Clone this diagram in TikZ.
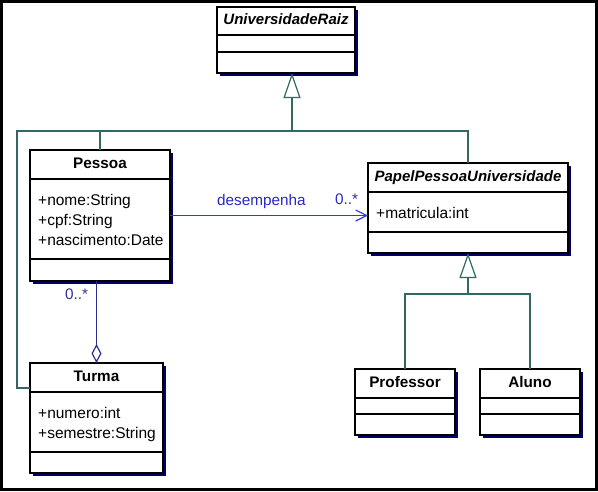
\documentclass[tikz,border=0pt]{standalone}
\usepackage{fontspec}
\setmainfont{Liberation Sans}
\usetikzlibrary{arrows.meta,shadows,calc}
\definecolor{shadowblue}{RGB}{0,0,110}
\definecolor{genteal}{RGB}{51,102,102}
\definecolor{assocblue}{RGB}{51,51,240}
\definecolor{lblblue}{RGB}{40,40,200}
\definecolor{aggnavy}{RGB}{45,45,150}
\tikzset{
  classbox/.style={draw=black, fill=white, line width=1.2pt, inner sep=0pt, outer sep=0pt,
    drop shadow={shadow xshift=3pt, shadow yshift=-3pt, fill=shadowblue, opacity=1}},
  sepline/.style={draw=black, line width=1.2pt},
  cname/.style={font=\fontsize{15.3}{20}\selectfont\bfseries, anchor=base, inner sep=0pt},
  aname/.style={font=\fontsize{15}{20}\selectfont\bfseries\itshape, anchor=base, inner sep=0pt},
  attr/.style={font=\fontsize{15.5}{20}\selectfont, anchor=base west, inner sep=0pt, align=left},
  genline/.style={draw=genteal, line width=1.2pt},
  assocline/.style={draw=assocblue, line width=1.2pt},
  aggline/.style={draw=aggnavy, line width=1.2pt},
  lbl/.style={font=\fontsize{15.3}{20}\selectfont, anchor=base west, inner sep=0pt},
}
\begin{document}
\begin{tikzpicture}[x=1pt,y=-1pt]
\useasboundingbox (0,0) rectangle (598,491);
\draw[line width=2.6pt] (1.3,1.3) rectangle (596.7,489.7);

% UniversidadeRaiz: x 217-355, y 7-73
\node[classbox, minimum width=138pt, minimum height=66pt] (ur) at (286,40) {};
\draw[sepline] ($(ur.north west)+(0,28)$) -- ($(ur.north east)+(0,28)$);
\draw[sepline] ($(ur.north west)+(0,45)$) -- ($(ur.north east)+(0,45)$);
\node[aname] (urname) at (286,24) {UniversidadeRaiz};

% Pessoa: x 30-170, y 150-281
\node[classbox, minimum width=140pt, minimum height=131pt] (pessoa) at (100,215.5) {};
\draw[sepline] ($(pessoa.north west)+(0,29)$) -- ($(pessoa.north east)+(0,29)$);
\draw[sepline] ($(pessoa.north west)+(0,109)$) -- ($(pessoa.north east)+(0,109)$);
\node[cname] (pessoaname) at (100,168) {Pessoa};
\node[attr] (pessoaa1) at (38,205.5) {+nome:String};
\node[attr] (pessoaa2) at (38,225.5) {+cpf:String};
\node[attr] (pessoaa3) at (38,245.5) {+nascimento:Date};

% Turma: x 30-163, y 363-473
\node[classbox, minimum width=133pt, minimum height=110pt] (turma) at (96.5,418) {};
\draw[sepline] ($(turma.north west)+(0,29)$) -- ($(turma.north east)+(0,29)$);
\draw[sepline] ($(turma.north west)+(0,89)$) -- ($(turma.north east)+(0,89)$);
\node[cname] (turmaname) at (96.5,381) {Turma};
\node[attr] (turmaa1) at (38,418) {+numero:int};
\node[attr] (turmaa2) at (38,438) {+semestre:String};

% PapelPessoaUniversidade: x 368-568, y 163-253
\node[classbox, minimum width=200pt, minimum height=90pt] (papel) at (468,208) {};
\draw[sepline] ($(papel.north west)+(0,29)$) -- ($(papel.north east)+(0,29)$);
\draw[sepline] ($(papel.north west)+(0,69)$) -- ($(papel.north east)+(0,69)$);
\node[aname] (papelname) at (468,181) {PapelPessoaUniversidade};
\node[attr] (papela1) at (376,218.5) {+matricula:int};

% Professor: x 355-455, y 369-435
\node[classbox, minimum width=100pt, minimum height=66pt] (prof) at (405,402) {};
\draw[sepline] ($(prof.north west)+(0,29)$) -- ($(prof.north east)+(0,29)$);
\draw[sepline] ($(prof.north west)+(0,45)$) -- ($(prof.north east)+(0,45)$);
\node[cname] (profname) at (405,387) {Professor};

% Aluno: x 480-580, y 369-435
\node[classbox, minimum width=100pt, minimum height=66pt] (aluno) at (530,402) {};
\draw[sepline] ($(aluno.north west)+(0,29)$) -- ($(aluno.north east)+(0,29)$);
\draw[sepline] ($(aluno.north west)+(0,45)$) -- ($(aluno.north east)+(0,45)$);
\node[cname] (alunoname) at (530,387) {Aluno};

% Generalization to UniversidadeRaiz
\coordinate (j1) at (292,131);
\coordinate (j1left) at (17,131);
\coordinate (turmaentry) at ($(turma.north west)+(0,25)$);
\draw[genline] (pessoa.north) |- (j1);
\draw[genline] (papel.north) |- (j1);
\draw[genline] (turmaentry) -| (j1left) -- (j1);
\draw[genline, -{Triangle[open, length=25pt, width=17pt, line width=1.2pt]}] (j1) -- (j1 |- ur.south);

% Generalization to PapelPessoaUniversidade
\coordinate (j2) at (468,294);
\draw[genline] (prof.north) |- (j2);
\draw[genline] (aluno.north) |- (j2);
\draw[genline, -{Triangle[open, length=25pt, width=17pt, line width=1.2pt]}] (j2) -- (j2 |- papel.south);

% Association desempenha
\draw[assocline, -{Straight Barb[length=11pt, width=11pt, line width=1.2pt]}] (pessoa.east) -- (pessoa.east -| papel.west);
\node[lbl, text=lblblue] (desemp) at (217,205) {desempenha};
\node[lbl, text=lblblue] (mult1) at (335,204) {0..*};

% Aggregation
\draw[aggline, {Diamond[open, length=19pt, width=10pt, line width=1.2pt]}-] (turma.north) -- (turma.north |- pessoa.south);
\node[lbl, text=aggnavy] (mult2) at (65,299) {0..*};
\end{tikzpicture}
\end{document}
